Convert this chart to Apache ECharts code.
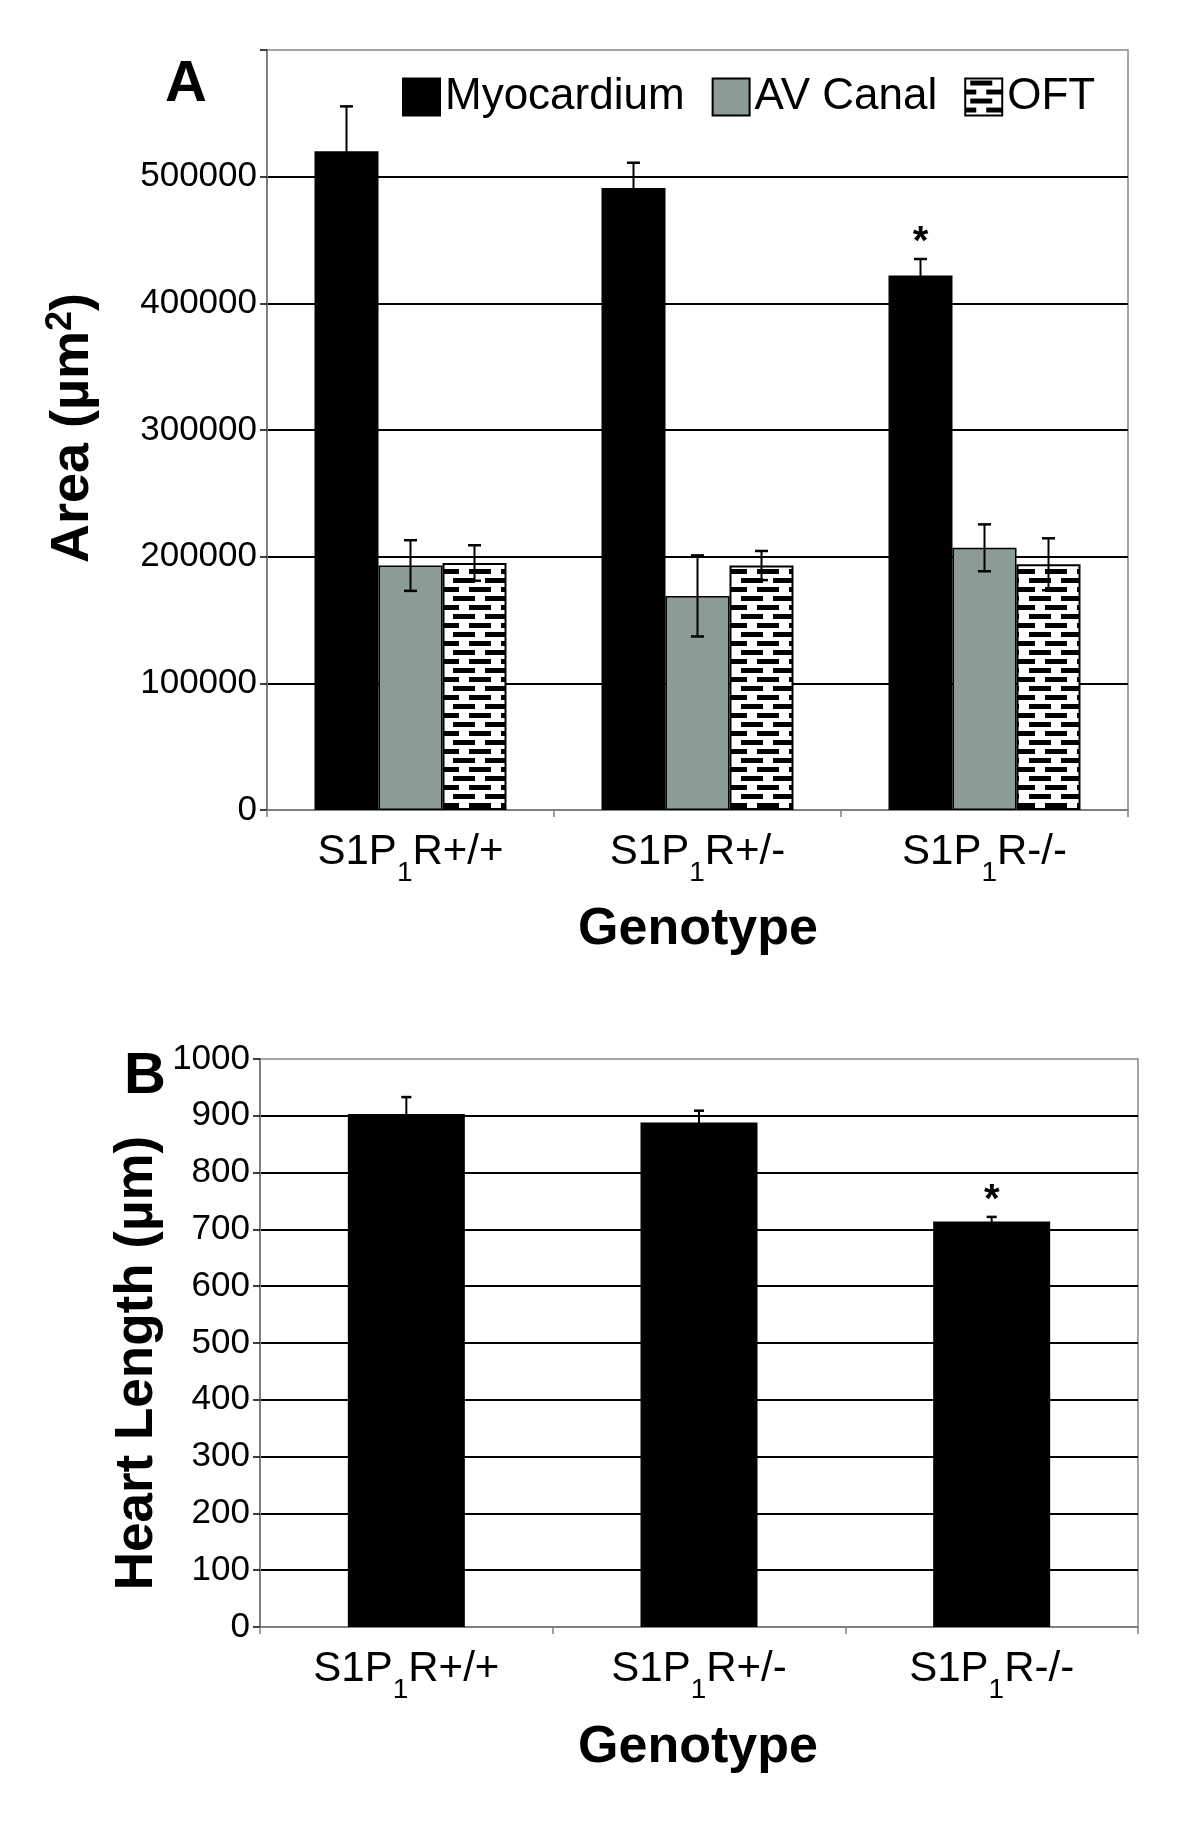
<!DOCTYPE html>
<html><head><meta charset="utf-8">
<script src="https://cdn.jsdelivr.net/npm/echarts@6/dist/echarts.min.js"></script>
<style>html,body{margin:0;padding:0;background:#fff}#c{width:1200px;height:1840px}</style>
</head><body><div id="c"></div>
<script>
// ---------- data ----------
const categories = ['S1P1R+/+', 'S1P1R+/-', 'S1P1R-/-'];
const seriesNamesA = ['Myocardium', 'AV Canal', 'OFT'];
const myocardium    = [520000, 491000, 422000];
const myocardiumErr = [35500, 20000, 13000];
const avCanal       = [193000, 169000, 207000];
const avCanalErr    = [20000, 32000, 18500];
const oft           = [195000, 193000, 194000];
const oftErr        = [14000, 11500, 20500];
const sigA          = ['', '', '*'];
const heartLength    = [903, 888, 714];
const heartLengthErr = [30, 21, 8];
const sigB           = ['', '', '*'];
const yMaxA = 600000, yStepA = 100000;
const yMaxB = 1000, yStepB = 100;

// ---------- styles ----------
const FONT = 'Liberation Sans, Arial, sans-serif';
const GRAY = '#8b9b97';
const BAR_W_A = 64, BAR_W_B = 117;

function makePattern() {
  const c = document.createElement('canvas');
  c.width = 32; c.height = 18;
  const g = c.getContext('2d');
  g.fillStyle = '#fff'; g.fillRect(0, 0, 32, 18);
  g.fillStyle = '#000';
  g.fillRect(5, 2, 22, 5);
  g.fillRect(0, 11, 11, 5); g.fillRect(21, 11, 11, 5);
  return c;
}
const pattern = { image: makePattern(), repeat: 'repeat' };

const itemStyles = [
  { color: '#000', borderColor: '#000', borderWidth: 0 },
  { color: GRAY, borderColor: '#000', borderWidth: 1.5 },
  { color: pattern, borderColor: '#000', borderWidth: 2 }
];

function catFormatter(v) {
  const rest = v.replace(/^S1P1R/, '');
  return '{n|S1P}{s|1}{n|R' + rest + '}';
}
const catRich = {
  n: { fontSize: 42, fontFamily: FONT, color: '#000', lineHeight: 48 },
  s: { fontSize: 28, fontFamily: FONT, color: '#000', lineHeight: 28, padding: [31, 0, 0, 0], verticalAlign: 'top' }
};

function errSeries(vals, errs, sig, idx, nBars, barW, xi, capW) {
  return {
    type: 'custom', xAxisIndex: xi, yAxisIndex: xi, z: 5, silent: true,
    data: vals.map((v, i) => [i, v, errs[i]]),
    renderItem(params, api) {
      const i = api.value(0), v = api.value(1), e = api.value(2);
      const c = api.coord([i, v]);
      const x = c[0] + (idx - (nBars - 1) / 2) * barW;
      const yt = api.coord([i, v + e])[1];
      const yb = api.coord([i, v - e])[1];
      const ls = { stroke: '#000', lineWidth: 2 };
      const ch = [
        { type: 'line', shape: { x1: x, y1: yt, x2: x, y2: yb }, style: ls },
        { type: 'line', shape: { x1: x - capW / 2, y1: yt, x2: x + capW / 2, y2: yt }, style: { stroke: '#000', lineWidth: 2.5 } },
        { type: 'line', shape: { x1: x - capW / 2, y1: yb, x2: x + capW / 2, y2: yb }, style: { stroke: '#000', lineWidth: 2.5 } }
      ];
      const s = sig[params.dataIndex];
      if (s) {
        ch.push({ type: 'text', x: x, y: yt - 16, style: { text: s, fontSize: 40, fontWeight: 'bold', fontFamily: FONT, fill: '#000', align: 'center', verticalAlign: 'middle' } });
      }
      return { type: 'group', children: ch };
    }
  };
}

const chart = echarts.init(document.getElementById('c'), null, { renderer: 'canvas' });

function xAxisCfg(gi) {
  return {
    type: 'category', gridIndex: gi, data: categories,
    axisLine: { lineStyle: { color: '#808080', width: 2 } },
    axisTick: { show: true, length: 7, lineStyle: { color: '#808080', width: 1.5 } },
    axisLabel: { margin: 18, formatter: catFormatter, rich: catRich }
  };
}
function yAxisCfg(gi, max, step, hideMax) {
  return {
    type: 'value', gridIndex: gi, min: 0, max: max, interval: step,
    axisLine: { show: true, lineStyle: { color: '#808080', width: 2 } },
    axisTick: { show: true, length: 7, lineStyle: { color: '#000', width: 1.5 } },
    splitLine: { show: true, showMaxLine: false, lineStyle: { color: '#000', width: 2 } },
    axisLabel: { fontSize: 35, fontFamily: FONT, color: '#000', margin: 10,
      formatter: v => (hideMax && v === max) ? '' : String(v) }
  };
}

const option = {
  backgroundColor: '#fff',
  animation: false,
  grid: [
    { left: 267, top: 50, width: 861, height: 760, show: true, borderColor: '#888', borderWidth: 1.5, backgroundColor: 'transparent' },
    { left: 260, top: 1059, width: 878, height: 568, show: true, borderColor: '#888', borderWidth: 1.5, backgroundColor: 'transparent' }
  ],
  legend: {
    left: 397, top: 70, itemWidth: 37, itemHeight: 37, itemGap: 27,
    textStyle: { fontSize: 44, fontFamily: FONT, color: '#000' },
    data: seriesNamesA.map((n, k) => ({ name: n, icon: 'rect', itemStyle: Object.assign({}, itemStyles[k], { borderColor: '#000', borderWidth: 2 }) }))
  },
  xAxis: [xAxisCfg(0), xAxisCfg(1)],
  yAxis: [yAxisCfg(0, yMaxA, yStepA, true), yAxisCfg(1, yMaxB, yStepB, false)],
  series: [
    { name: seriesNamesA[0], type: 'bar', xAxisIndex: 0, yAxisIndex: 0, data: myocardium, barWidth: BAR_W_A, barGap: '0%', itemStyle: itemStyles[0] },
    { name: seriesNamesA[1], type: 'bar', xAxisIndex: 0, yAxisIndex: 0, data: avCanal, barWidth: BAR_W_A, barGap: '0%', itemStyle: itemStyles[1] },
    { name: seriesNamesA[2], type: 'bar', xAxisIndex: 0, yAxisIndex: 0, data: oft, barWidth: BAR_W_A, barGap: '0%', itemStyle: itemStyles[2] },
    errSeries(myocardium, myocardiumErr, sigA, 0, 3, BAR_W_A, 0, 13),
    errSeries(avCanal, avCanalErr, ['', '', ''], 1, 3, BAR_W_A, 0, 13),
    errSeries(oft, oftErr, ['', '', ''], 2, 3, BAR_W_A, 0, 13),
    { name: 'Heart Length', type: 'bar', xAxisIndex: 1, yAxisIndex: 1, data: heartLength, barWidth: BAR_W_B, itemStyle: { color: '#000' } },
    errSeries(heartLength, heartLengthErr, sigB, 0, 1, BAR_W_B, 1, 10)
  ],
  graphic: [
    { type: 'text', x: 186, y: 85, style: { text: 'A', fontSize: 58, fontWeight: 'bold', fontFamily: FONT, fill: '#000', align: 'center', verticalAlign: 'middle' } },
    { type: 'text', x: 145, y: 1077, style: { text: 'B', fontSize: 58, fontWeight: 'bold', fontFamily: FONT, fill: '#000', align: 'center', verticalAlign: 'middle' } },
    { type: 'text', x: 73, y: 428, rotation: Math.PI / 2, style: {
      text: '{a|Area (µm}{p|2}{a|)}', align: 'center', verticalAlign: 'middle',
      rich: { a: { fontSize: 54, fontWeight: 'bold', fontFamily: FONT, fill: '#000', lineHeight: 60 },
              p: { fontSize: 36, fontWeight: 'bold', fontFamily: FONT, fill: '#000', lineHeight: 60, padding: [0, 0, 24, 0] } } } },
    { type: 'text', x: 698, y: 930, style: { text: 'Genotype', fontSize: 52, fontWeight: 'bold', fontFamily: FONT, fill: '#000', align: 'center', verticalAlign: 'middle' } },
    { type: 'text', x: 137, y: 1363, rotation: Math.PI / 2, style: { text: 'Heart Length (µm)', fontSize: 53, fontWeight: 'bold', fontFamily: FONT, fill: '#000', align: 'center', verticalAlign: 'middle' } },
    { type: 'text', x: 698, y: 1748, style: { text: 'Genotype', fontSize: 52, fontWeight: 'bold', fontFamily: FONT, fill: '#000', align: 'center', verticalAlign: 'middle' } }
  ]
};
chart.setOption(option);
</script>
</body></html>
